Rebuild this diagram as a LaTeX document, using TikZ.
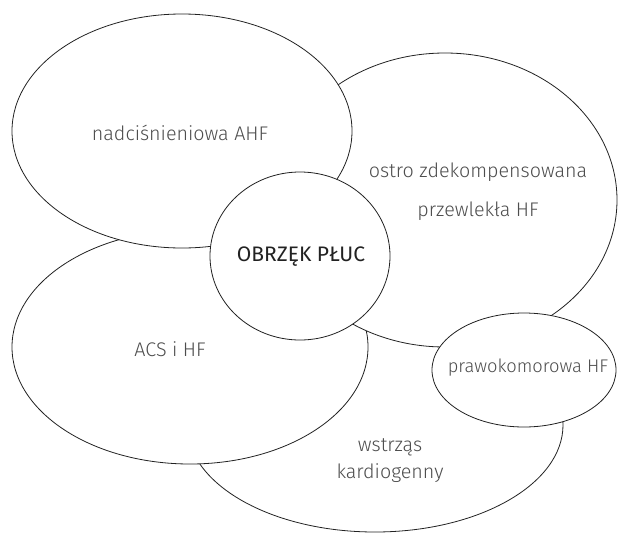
\documentclass[tikz,border=0pt]{standalone}
\usepackage{fontspec}
\setmainfont{Fira Sans}[UprightFont=* Light, BoldFont=* Medium]
\newfontfamily\regfont{Fira Sans}
\definecolor{linegray}{HTML}{222222}
\definecolor{textgray}{HTML}{4D4D4D}
\begin{document}
\begin{tikzpicture}[x=1pt, y=-1pt, line width=0.8pt,
    blob/.style={draw=linegray, fill=white},
    txt/.style={textgray, font=\fontsize{19.7}{23}\selectfont, align=center}]
        \useasboundingbox (0, 0) rectangle (618, 533);
        \draw[blob] (375, 425) ellipse (188 and 107);
        \draw[blob] (190, 347) ellipse (178 and 117);
        \draw[blob] (445, 200) ellipse (172 and 147);
        \draw[blob] (182, 131) ellipse (170 and 117);
        \draw[blob] (524, 370) ellipse (92 and 57);
        \draw[blob] (300, 256) ellipse (90 and 84);
        \node[txt] (nadc) at (180, 133) {nadciśnieniowa AHF};
        \node[txt] (ostro) at (478, 192) {ostro zdekompensowana\\[16pt]przewlekła HF};
        \node[txt] (acs) at (170, 349) {ACS i HF};
        \node[txt, font=\fontsize{18.3}{22}\selectfont] (prawo) at (528, 368) {prawokomorowa HF};
        \node[txt] (wstrzas) at (390, 461) {wstrząs\\[4pt]kardiogenny};
        \node[txt, linegray, font=\fontsize{21}{25}\selectfont\regfont] (obrzek) at (301, 257) {OBRZĘK PŁUC};
    \end{tikzpicture}
\end{document}
